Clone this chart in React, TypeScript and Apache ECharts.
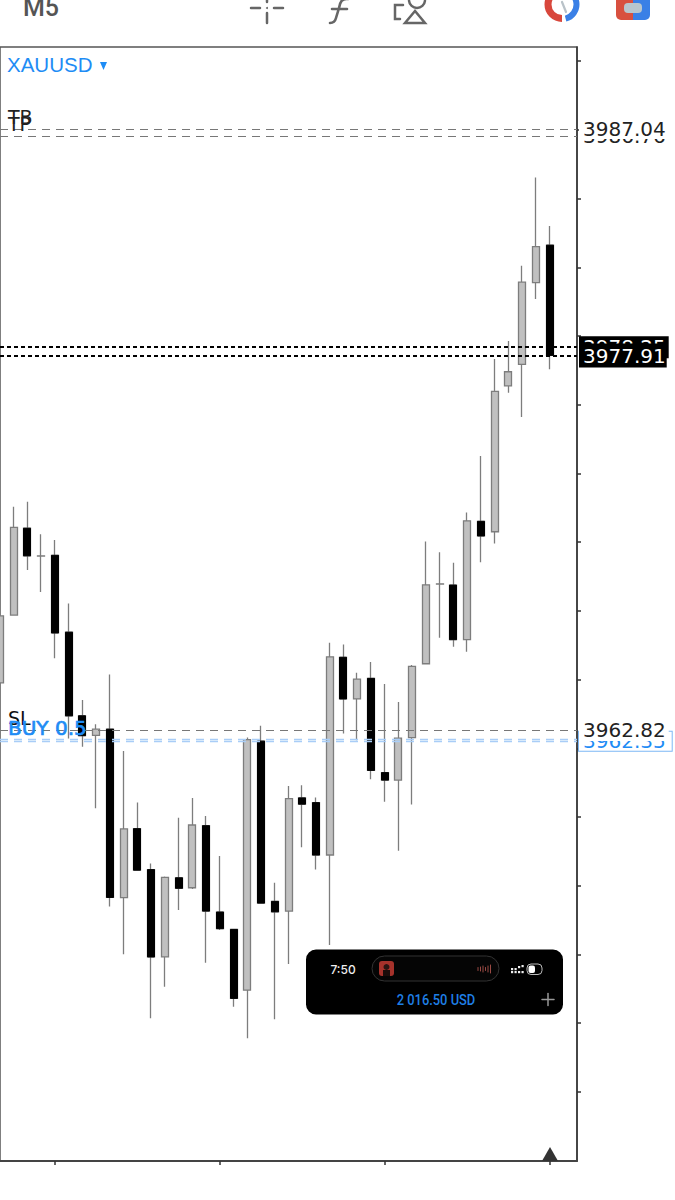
import React, { useEffect, useRef } from "react";
import * as echarts from "echarts";

const opens = [3964.72,3967.45,3970.95,3969.83,3969.86,3966.76,3963.39,3962.60,3962.85,3956.06,3958.84,3957.19,3953.67,3956.86,3956.46,3958.96,3955.48,3954.78,3952.33,3962.37,3955.91,3955.52,3960.08,3959.89,3957.78,3965.75,3964.07,3964.90,3961.10,3960.80,3962.51,3965.49,3968.70,3968.66,3966.46,3971.23,3970.81,3976.69,3977.56,3980.85,3982.36];
const closes = [3967.42,3970.99,3969.84,3969.84,3966.73,3963.39,3962.59,3962.85,3956.07,3958.83,3957.17,3953.67,3956.88,3956.44,3958.99,3955.52,3954.81,3952.00,3962.43,3955.84,3955.49,3960.05,3959.83,3957.78,3965.77,3964.07,3964.87,3961.19,3960.80,3962.49,3965.38,3968.67,3968.71,3966.46,3971.25,3970.64,3976.47,3977.26,3980.87,3982.30,3977.92];
const lows = [3964.72,3967.45,3969.27,3968.38,3965.71,3962.48,3962.14,3959.66,3955.70,3953.78,3957.17,3951.20,3952.47,3955.56,3956.41,3953.44,3954.76,3951.66,3950.39,3955.84,3951.16,3953.39,3958.09,3957.20,3954.15,3962.68,3962.41,3960.83,3959.93,3957.95,3959.82,3965.49,3966.54,3966.17,3965.97,3969.58,3970.34,3976.41,3975.44,3980.19,3977.36];
const highs = [3967.42,3971.82,3972.02,3970.71,3970.48,3967.92,3964.03,3963.05,3965.06,3961.97,3959.90,3957.44,3956.91,3959.28,3960.08,3959.35,3957.74,3954.78,3962.52,3962.99,3956.66,3960.56,3960.59,3960.10,3966.34,3966.26,3965.13,3965.56,3964.67,3963.95,3965.44,3970.42,3969.98,3969.56,3971.59,3973.86,3977.77,3978.50,3981.53,3985.09,3983.13];
const categories = Array.from({ length: 43 }, (_, i) => String(i));
const yTicks = [3989.78,3987.01,3984.24,3981.47,3978.70,3975.93,3973.16,3970.39,3967.62,3964.85,3962.08,3959.31,3956.54,3953.77,3951.00,3948.23];
const yMin = 3945.445;
const yMax = 3990.35;
const tpLevel = 3987.04;
const tbLevel = 3986.76;
const bidLevel = 3978.25;
const askLevel = 3977.91;
const slLevel = 3962.82;
const buyLevel = 3962.36;
const buyLevelUpper = 3962.43;
const balance = "2 016.50 USD";

const FONT = "DejaVu Sans";
const BLUE = "#1e8cf5";

echarts.graphic.registerShape(
  "fGlyph",
  echarts.graphic.extendPath("M348 -1 C342 -2 340 2 339 8 L336 18 C335 22 333 23 330 23 M332 9 L347 9", {}) as any
);

const priceLabel = (text: string, color: string, bg: string, padding: number[], extra: any = {}) => ({
  show: true,
  position: "end",
  formatter: text,
  distance: 2,
  color,
  fontFamily: FONT,
  fontSize: 20,
  lineHeight: 14,
  backgroundColor: bg,
  padding,
  ...extra,
});
const tagLabel = (text: string, color: string, extra: any = {}) => ({
  show: true,
  position: "insideStartTop",
  formatter: text,
  distance: [8, 5],
  color,
  fontFamily: FONT,
  fontSize: 19,
  lineHeight: 14,
  ...extra,
});
const grayDash = { color: "#777", width: 1, type: [8, 6], opacity: 1 };
const blackDash = { color: "#000", width: 2, type: [4, 3], opacity: 1 };
const blueDash = { color: "#a9cdf7", width: 1.3, type: [8, 6], opacity: 1 };
const noLine = { color: "rgba(0,0,0,0)", width: 0 };

const levelData = [
  { yAxis: tbLevel, lineStyle: grayDash, label: priceLabel(String(tbLevel), "#222", "transparent", [3, 3, 3, 4]) },
  { yAxis: tpLevel, lineStyle: grayDash, label: priceLabel(tpLevel.toFixed(2), "#222", "#fff", [3, 3, 3, 4]) },
  { yAxis: tbLevel, lineStyle: noLine, label: tagLabel("TP", "#222") },
  { yAxis: tpLevel, lineStyle: noLine, label: tagLabel("TB", "#222") },
  { yAxis: bidLevel, lineStyle: blackDash, label: priceLabel(String(bidLevel), "#fff", "#000", [4, 3, 4, 4]) },
  { yAxis: askLevel, lineStyle: blackDash, label: priceLabel(String(askLevel), "#fff", "#000", [5, 1, 5, 4]) },
  { yAxis: buyLevelUpper, lineStyle: blueDash, label: { show: false } },
  { yAxis: buyLevel, lineStyle: blueDash, label: priceLabel("3962.35", BLUE, "#fff", [2.5, 6, 2.5, 4], { borderColor: "#7db8f5", borderWidth: 1 }) },
  { yAxis: slLevel, lineStyle: grayDash, label: priceLabel(String(slLevel), "#222", "#fff", [4, 3, 4, 4]) },
  { yAxis: slLevel, lineStyle: noLine, label: tagLabel("SL", "#111") },
  { yAxis: buyLevelUpper, lineStyle: noLine, label: tagLabel("BUY 0.5", BLUE, { fontSize: 20, textBorderColor: BLUE, textBorderWidth: 0.7 }) },
];

const ICON = "#666";
const stroke = (color: string, lineWidth: number) => ({ fill: "none", stroke: color, lineWidth, lineCap: "round" });
const seg = (x1: number, y1: number, x2: number, y2: number, color = ICON, w = 2.5) => ({
  type: "line",
  shape: { x1, y1, x2, y2 },
  style: stroke(color, w),
});
const txt = (x: number, y: number, text: string, fill: string, font: string, extra: any = {}) => ({
  type: "text",
  x,
  y,
  style: { text, fill, font, textVerticalAlign: "middle", ...extra },
});

const graphics: any[] = [
  txt(23, 7, "M5", "#555", "500 25px Roboto"),
  seg(251, 8, 260, 8),
  seg(274, 8, 283, 8),
  seg(267, 0, 267, 2),
  seg(267, 13, 267, 23),
  { type: "circle", shape: { cx: 267, cy: 8, r: 1 }, style: { fill: ICON } },
  { type: "fGlyph", style: stroke(ICON, 2.6) },
  { type: "polyline", shape: { points: [[403, 5], [395, 5], [395, 19], [400, 19]] }, style: stroke(ICON, 2.5) },
  { type: "polygon", shape: { points: [[415, 11], [405, 23], [425, 23]] }, style: stroke(ICON, 2.5) },
  { type: "arc", shape: { cx: 417, cy: 0, r: 8, startAngle: 0.1, endAngle: Math.PI - 0.1 }, style: stroke(ICON, 2.5) },
  { type: "arc", shape: { cx: 562, cy: 4.5, r: 14, startAngle: Math.PI * 0.5, endAngle: Math.PI * 1.5 }, style: { fill: "none", stroke: "#d8473c", lineWidth: 7 } },
  { type: "arc", shape: { cx: 562, cy: 4.5, r: 14.5, startAngle: -Math.PI * 0.45, endAngle: Math.PI * 0.42 }, style: { fill: "none", stroke: "#3a80e6", lineWidth: 6 } },
  seg(562, 2, 566, 12, "#b9c2c8", 2.2),
  { type: "rect", shape: { x: 616, y: -6, width: 17, height: 26, r: [4, 0, 0, 5] }, style: { fill: "#d8503f" } },
  { type: "rect", shape: { x: 633, y: -6, width: 17, height: 26, r: [0, 4, 5, 0] }, style: { fill: "#3a80e6" } },
  { type: "rect", shape: { x: 624, y: 3, width: 18, height: 10, r: 4 }, style: { fill: "#b8c6ce" } },

  txt(7, 64, "XAUUSD", BLUE, "20.5px 'Liberation Sans'"),
  { type: "polygon", shape: { points: [[100, 62], [107, 62], [103.5, 70]] }, style: { fill: BLUE } },

  { type: "polygon", z: 10, shape: { points: [[550, 1147], [542, 1161], [558, 1161]] }, style: { fill: "#333" } },

  { type: "rect", z: 10, shape: { x: 306, y: 949.5, width: 257, height: 65, r: 10 }, style: { fill: "#000" } },
  { type: "text", z: 11, x: 343, y: 969, style: { text: "7:50", fill: "#eee", font: "500 12px Inter", textAlign: "center", textVerticalAlign: "middle" } },
  { type: "rect", z: 11, shape: { x: 372, y: 956, width: 127, height: 25, r: 12.5 }, style: { fill: "#050505", stroke: "#333", lineWidth: 1 } },
  { type: "rect", z: 11, shape: { x: 379, y: 961, width: 15, height: 15, r: 3 }, style: { fill: "#a5322b" } },
  { type: "circle", z: 12, shape: { cx: 386.5, cy: 967, r: 3 }, style: { fill: "#2a1512" } },
  { type: "rect", z: 12, shape: { x: 383, y: 970, width: 7, height: 6 }, style: { fill: "#1a0c0a" } },
  ...[478, 480.5, 483, 485.5, 488, 490.5].map((x, i) => ({
    ...seg(x, 969 - [1.5, 2, 3, 1.5, 3, 4][i], x, 969 + [1.5, 2, 3, 1.5, 3, 4][i], "#9b4a44", 1),
    z: 12,
  })),
  ...[[511, 968], [514.5, 968], [518, 966], [511, 971], [514.5, 971], [518, 971], [521.5, 965], [521.5, 971]].map(([x, y]) => ({
    type: "rect",
    z: 12,
    shape: { x, y, width: 2.2, height: 2.2 },
    style: { fill: "#eee" },
  })),
  { type: "rect", z: 12, shape: { x: 527, y: 964, width: 15, height: 10.5, r: 4 }, style: { fill: "none", stroke: "#bbb", lineWidth: 1 } },
  { type: "rect", z: 12, shape: { x: 528.5, y: 965.5, width: 6.5, height: 7.5, r: 2 }, style: { fill: "#fff" } },
  { type: "text", z: 11, x: 436, y: 999.5, scaleX: 0.86, style: { text: balance, fill: "#1f7fe6", font: "500 15px Roboto", textAlign: "center", textVerticalAlign: "middle" } },
  { ...seg(542, 999.5, 554, 999.5, "#999", 1.5), z: 11 },
  { ...seg(548, 993.5, 548, 1005.5, "#999", 1.5), z: 11 },
];

export default function App() {
  const ref = useRef<HTMLDivElement>(null);
  useEffect(() => {
    const chart = echarts.init(ref.current!, undefined, { renderer: "svg" });
    chart.setOption({
      animation: false,
      backgroundColor: "#fff",
      grid: {
        left: 0,
        right: 98,
        top: 47,
        bottom: 39,
        show: true,
        borderColor: "#555",
        borderWidth: 1.5,
        backgroundColor: "#fff",
      },
      xAxis: {
        type: "category",
        data: categories,
        boundaryGap: false,
        axisLine: { show: true, onZero: false, lineStyle: { color: "#444", width: 2 } },
        axisTick: { show: true, length: 4, interval: (i: number) => (i - 4) % 12 === 0, lineStyle: { color: "#333", width: 1.5 } },
        axisLabel: { show: false },
        splitLine: { show: false },
      },
      yAxis: {
        type: "value",
        position: "right",
        min: yMin,
        max: yMax,
        scale: true,
        axisLine: { show: true, lineStyle: { color: "#333", width: 1.5 } },
        axisTick: { show: true, length: 4, customValues: yTicks, lineStyle: { color: "#333", width: 1.5 } },
        axisLabel: { show: false },
        splitLine: { show: false },
      },
      series: [
        {
          type: "candlestick",
          barWidth: 7.5,
          clip: true,
          data: opens.map((o, i) => [o, closes[i], lows[i], highs[i]]),
          itemStyle: {
            color: "#c0c0c0",
            color0: "#000",
            borderColor: "#7d7d7d",
            borderColor0: "#7d7d7d",
            borderWidth: 1.3,
          },
          markLine: {
            symbol: "none",
            silent: true,
            animation: false,
            data: levelData,
          },
        },
        {
          type: "candlestick",
          barWidth: 7.5,
          clip: true,
          data: opens.map((o, i) =>
            closes[i] < o ? [o, closes[i], closes[i], o] : ["-", "-", "-", "-"]
          ),
          itemStyle: {
            color: "#000",
            color0: "#000",
            borderColor: "#000",
            borderColor0: "#000",
            borderWidth: 1,
          },
        },
      ],
      graphic: { elements: graphics },
    });
    return () => chart.dispose();
  }, []);
  return <div ref={ref} style={{ position: "absolute", left: 0, top: 0, width: 675, height: 1200 }} />;
}
